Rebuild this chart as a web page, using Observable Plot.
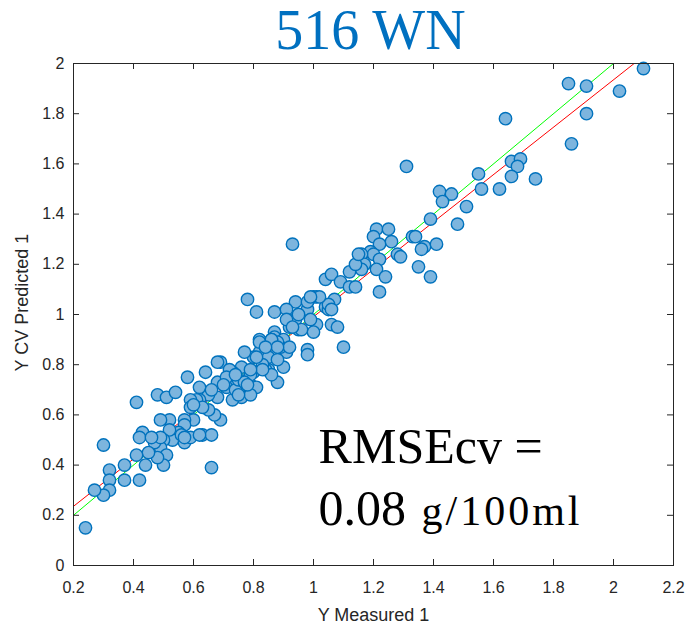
<!DOCTYPE html>
<html>
<head>
<meta charset="utf-8">
<script src="https://cdn.jsdelivr.net/npm/d3@7"></script>
<script src="https://cdn.jsdelivr.net/npm/@observablehq/plot@0.6"></script>
<style>
  body { margin: 0; background: #fff; }
</style>
</head>
<body>
<div id="chart"></div>
<script>
const measured = [2.10,1.85,1.91,2.02,1.91,1.64,1.86,1.31,1.55,1.66,1.69,1.68,1.66,1.74,1.56,1.62,1.42,1.46,1.43,1.51,1.39,1.48,1.21,1.25,1.20,1.26,1.22,1.33,1.34,1.37,1.36,1.41,1.28,1.29,1.19,1.20,1.22,1.16,1.17,1.16,1.21,1.24,1.35,1.39,1.22,0.93,0.78,0.81,0.87,0.94,0.91,0.98,1.00,1.01,0.98,1.04,1.05,1.07,1.04,1.06,1.09,1.12,1.14,1.12,1.14,1.15,1.10,1.06,1.08,1.01,0.98,0.98,0.95,0.94,0.92,1.00,0.96,0.91,0.99,1.05,1.02,1.06,0.87,0.87,0.90,0.91,0.90,0.89,0.92,0.88,0.86,0.82,0.82,0.85,0.85,0.88,0.84,0.86,0.88,0.80,0.83,0.77,0.78,0.79,0.80,0.81,0.79,0.76,0.76,0.75,0.73,0.73,0.72,0.71,0.69,0.68,0.68,0.68,0.69,0.67,0.65,0.65,0.64,0.62,0.62,0.61,0.59,0.59,0.60,0.58,0.57,0.57,0.57,0.59,0.55,0.53,0.52,0.52,0.49,0.50,0.49,0.51,0.50,0.48,0.47,0.45,0.44,0.43,0.42,0.41,0.41,0.42,0.37,0.37,0.30,0.32,0.32,0.32,0.30,0.27,0.24,0.48,0.51,0.54,0.66,0.63,0.66,0.72,0.71,0.74,0.75,0.77,0.79,0.75,0.78,0.83,0.81,0.82,0.86,0.88,0.93,0.63,0.60,0.56,0.62,0.49,0.46,0.57,0.99,0.79,0.70,0.66,0.74,0.84,0.95];
const predicted = [1.98,1.92,1.91,1.89,1.80,1.78,1.68,1.59,1.56,1.61,1.62,1.59,1.55,1.54,1.50,1.50,1.49,1.48,1.45,1.43,1.38,1.36,1.34,1.34,1.31,1.29,1.28,1.31,1.31,1.27,1.26,1.28,1.24,1.23,1.25,1.24,1.22,1.24,1.20,1.18,1.18,1.15,1.19,1.15,1.09,1.28,1.06,1.01,1.01,1.05,1.02,1.02,1.07,1.07,1.05,1.03,1.02,1.06,1.14,1.16,1.13,1.11,1.11,1.17,1.20,1.24,0.87,0.96,0.95,0.96,0.86,0.84,0.94,0.98,0.95,0.93,0.94,0.98,0.98,1.04,1.07,1.02,0.93,0.91,0.90,0.85,0.79,0.87,0.87,0.89,0.90,0.90,0.85,0.83,0.78,0.73,0.78,0.76,0.82,0.83,0.80,0.85,0.74,0.72,0.77,0.71,0.76,0.79,0.67,0.70,0.66,0.77,0.74,0.71,0.81,0.81,0.73,0.67,0.58,0.60,0.68,0.62,0.77,0.71,0.66,0.66,0.66,0.63,0.58,0.75,0.58,0.56,0.49,0.51,0.53,0.50,0.58,0.54,0.58,0.50,0.47,0.44,0.40,0.43,0.49,0.45,0.40,0.53,0.51,0.65,0.44,0.34,0.40,0.34,0.48,0.38,0.34,0.30,0.28,0.30,0.15,0.68,0.67,0.69,0.39,0.52,0.52,0.78,0.75,0.70,0.74,0.73,0.68,0.68,0.72,0.78,0.83,0.89,0.90,0.87,0.95,0.63,0.64,0.52,0.52,0.51,0.51,0.51,1.07,0.78,0.72,0.70,0.76,0.87,1.00];

const xTicks = [0.2,0.4,0.6,0.8,1,1.2,1.4,1.6,1.8,2,2.2];
const yTicks = [0,0.2,0.4,0.6,0.8,1,1.2,1.4,1.6,1.8,2];

// reference (y = x) and fitted line
const identityX = [0.2, 2.0];
const fitSlope = 0.944, fitIntercept = 0.047;
const fitX = [0.2, 2.068];

const titleText = "516 WN";
const xLabel = "Y Measured 1";
const yLabel = "Y CV Predicted 1";
const annotMain = [{x: 1.017, y: 0.41, t: "RMSEcv ="}, {x: 1.017, y: 0.163, t: "0.08"}];
const annotUnit = [{x: 1.36, y: 0.163, t: "g/100ml"}];

const points = measured.map((m, i) => ({m, p: predicted[i]}));
const identity = identityX.map(v => ({x: v, y: v}));
const fit = fitX.map(v => ({x: v, y: fitSlope * v + fitIntercept}));

const fmt = d => String(+d.toFixed(1));
const axisColor = "#262626";
const W = 689, H = 623, mL = 73, mR = 16, mT = 63, mB = 58;
const fw = W - mL - mR, fh = H - mT - mB;

const chart = Plot.plot({
  width: W, height: H,
  marginLeft: mL, marginRight: mR, marginTop: mT, marginBottom: mB,
  style: {fontFamily: "'Liberation Sans', Arial, sans-serif", background: "#fff"},
  x: {domain: [0.2, 2.2]},
  y: {domain: [0, 2]},
  marks: [
    Plot.line(fit, {x: "x", y: "y", stroke: "#ff0000", strokeWidth: 1, clip: true}),
    Plot.line(identity, {x: "x", y: "y", stroke: "#00ff00", strokeWidth: 1, clip: true}),
    Plot.dot(points, {x: "m", y: "p", r: 6.2, fill: "#7db5de", stroke: "#0072bd", strokeWidth: 1.4}),
    Plot.frame({stroke: axisColor, strokeWidth: 1}),
    Plot.tickX(xTicks, {x: d => d, insetTop: fh - 6, stroke: axisColor}),
    Plot.tickX(xTicks, {x: d => d, insetBottom: fh - 6, stroke: axisColor}),
    Plot.tickY(yTicks, {y: d => d, insetRight: fw - 6, stroke: axisColor}),
    Plot.tickY(yTicks, {y: d => d, insetLeft: fw - 6, stroke: axisColor}),
    Plot.axisX(xTicks, {tickSize: 0, tickPadding: 16, tickFormat: fmt, fontSize: 16, color: axisColor, label: null}),
    Plot.axisY(yTicks, {tickSize: 0, tickPadding: 9, tickFormat: fmt, fontSize: 16, color: axisColor, label: null}),
    Plot.text([titleText], {text: d => d, frameAnchor: "top", textAnchor: "middle", dx: -3, dy: -15, lineAnchor: "bottom", fontSize: 56, fontFamily: "'Liberation Serif', serif", fill: "#0070c0"}),
    Plot.text([xLabel], {text: d => d, frameAnchor: "bottom", textAnchor: "middle", dy: 55, lineAnchor: "bottom", fontSize: 18, fill: axisColor}),
    Plot.text([yLabel], {text: d => d, frameAnchor: "left", textAnchor: "middle", rotate: -90, dx: -51, dy: -12, lineAnchor: "middle", fontSize: 18, fill: axisColor}),
    Plot.text(annotMain, {x: "x", y: "y", text: "t", textAnchor: "start", lineAnchor: "bottom", fontSize: 50, fontFamily: "'Liberation Serif', serif", fill: "#000"}),
    Plot.text(annotUnit, {x: "x", y: "y", text: "t", textAnchor: "start", lineAnchor: "bottom", fontSize: 42, fontFamily: "'Liberation Serif', serif", fill: "#000"})
  ]
});
d3.select(chart).selectAll("text").filter(function() { return this.textContent === annotUnit[0].t; }).style("letter-spacing", "3px");
document.getElementById("chart").appendChild(chart);
</script>
</body>
</html>
